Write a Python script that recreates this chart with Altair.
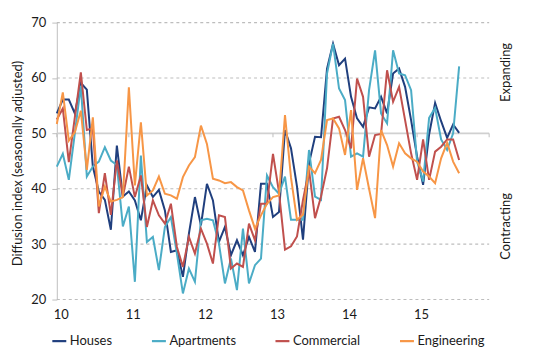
import altair as alt
import pandas as pd

# ---- data (months since Jan 2010, diffusion index values) ----
series_names = ["Houses", "Apartments", "Commercial", "Engineering"]
series_colors = ["#203F7E", "#4BACC6", "#C0504D", "#F79646"]

houses = [53.6, 56.1, 56.1, 53.6, 59.1, 57.9, 44.0, 39.5, 38.0, 32.6,
          47.8, 38.6, 39.5, 37.9, 34.3, 40.6, 38.5, 39.8, 36.1, 28.6,
          28.9, 24.1, 31.9, 38.5, 33.4, 40.9, 37.9, 30.4, 33.1, 28.0,
          30.7, 28.0, 31.3, 28.6, 40.9, 40.9, 34.9, 35.8, 50.6, 47.3,
          40.4, 30.8, 44.6, 49.4, 49.3, 61.7, 66.2, 62.3, 63.5, 56.6,
          52.7, 51.2, 54.7, 54.5, 56.6, 53.6, 60.8, 61.7, 58.4, 52.4,
          45.8, 40.7, 49.8, 55.5, 52.2, 49.2, 51.6, 50.1]
apartments = [44.0, 46.3, 41.6, 50.0, 58.6, 42.2, 44.0, 44.9, 47.5, 45.1,
              44.3, 33.2, 36.8, 23.2, 46.0, 30.4, 31.3, 25.3, 33.1, 34.9,
              28.3, 21.1, 25.6, 23.2, 34.3, 34.6, 34.3, 30.1, 22.9, 27.4,
              21.7, 32.8, 22.9, 26.2, 27.4, 42.4, 40.3, 39.1, 42.2, 34.4,
              34.4, 34.4, 47.0, 38.6, 38.0, 60.8, 66.2, 58.1, 56.0, 45.8,
              46.4, 45.8, 57.8, 65.0, 53.6, 51.8, 65.0, 60.8, 60.5, 57.8,
              44.9, 41.3, 52.8, 54.6, 48.9, 47.0, 50.0, 62.1]
commercial = [52.5, 54.5, 44.8, 52.9, 61.0, 50.6, 50.9, 35.6, 42.8, 35.3,
              45.1, 38.6, 44.0, 38.5, 42.4, 33.1, 37.9, 35.2, 33.7, 37.3,
              29.5, 25.9, 31.3, 28.3, 32.8, 30.1, 26.5, 35.2, 34.9, 25.6,
              26.5, 25.9, 33.7, 30.7, 37.3, 37.3, 46.3, 39.4, 29.0, 29.6,
              31.4, 38.0, 43.4, 34.7, 38.6, 43.7, 52.7, 53.0, 50.6, 47.3,
              59.9, 56.6, 45.8, 49.7, 49.9, 61.4, 55.7, 58.4, 52.4, 46.4,
              41.6, 48.9, 41.6, 46.7, 47.6, 48.9, 48.9, 45.2]
engineering = [51.7, 57.4, 48.7, 50.2, 54.1, 43.4, 52.9, 36.8, 40.4, 37.7,
               38.0, 38.5, 58.3, 40.6, 52.0, 38.8, 39.7, 42.2, 39.1, 38.8,
               38.2, 42.1, 44.2, 45.7, 51.4, 48.1, 41.8, 41.5, 41.0, 41.2,
               40.3, 39.7, 36.1, 32.8, 35.2, 37.3, 38.5, 38.8, 53.3, 42.0,
               34.4, 35.3, 44.0, 42.8, 45.2, 52.4, 52.7, 50.9, 46.1, 54.2,
               39.8, 45.5, 40.0, 34.7, 50.6, 47.9, 44.0, 48.2, 46.4, 45.5,
               44.9, 43.1, 42.2, 41.0, 45.5, 48.3, 44.9, 42.8]

year_labels = [10, 11, 12, 13, 14, 15]
year_ticks = [10, 11, 12, 13, 14, 15, 16]
dotted_levels = [20, 30, 40, 60, 70]
y_ticks = [20, 30, 40, 50, 60, 70]
side_labels = ["Expanding", "Contracting"]
side_label_levels = [61.0, 33.2]

# ---- tables built from the arrays ----
rows = []
for name, vals in zip(series_names, [houses, apartments, commercial, engineering]):
    for m, v in enumerate(vals):
        rows.append({"t": 10 + m / 12, "value": v, "series": name})
lines_df = pd.DataFrame(rows)

grid_rows = []
for lvl in dotted_levels:
    grid_rows.append({"value": lvl, "t": year_ticks[0], "t2": year_ticks[-1]})
grid_df = pd.DataFrame(grid_rows)
zero_df = pd.DataFrame({"value": [50], "t": [year_ticks[0]], "t2": [year_ticks[-1]]})
tick_df = pd.DataFrame({"t": year_ticks, "value": [50] * len(year_ticks),
                        "value2": [49.3] * len(year_ticks)})
side_df = pd.DataFrame({"label": side_labels, "value": side_label_levels})

FONT = "Lato"
TXT = "#1a1a1a"

x_scale = alt.Scale(domain=[10, 16], nice=False, zero=False)
y_scale = alt.Scale(domain=[20, 70], nice=False, zero=False)

x_axis = alt.Axis(values=year_labels, format="d", title=None, domain=False, ticks=False,
                  grid=False, labelFontSize=13, labelColor=TXT, labelFont=FONT,
                  labelPadding=9, labelOffset=4, labelAlign="center")
y_axis = alt.Axis(values=y_ticks, title="Diffusion index (seasonally adjusted)",
                  grid=False, domain=True, domainColor="#BFBFBF", domainWidth=1,
                  ticks=True, tickSize=5, tickColor="#BFBFBF", labelFontSize=13,
                  labelColor=TXT, labelFont=FONT, labelPadding=6,
                  titleFontSize=13, titleFont=FONT, titleColor=TXT,
                  titleFontWeight="normal", titleX=-39, titleY=141,
                  titleAlign="center", titleBaseline="middle")

X = alt.X("t:Q", scale=x_scale, axis=x_axis)
Y = alt.Y("value:Q", scale=y_scale, axis=y_axis)

grid = alt.Chart(grid_df).mark_rule(color="#BDBDBD", strokeDash=[3, 3], strokeWidth=1.1).encode(
    x=X, x2=alt.X2("t2:Q"), y=Y)
zero = alt.Chart(zero_df).mark_rule(color="#D0D0D0", strokeWidth=2).encode(
    x=X, x2=alt.X2("t2:Q"), y=Y)
ticks = alt.Chart(tick_df).mark_rule(color="#BFBFBF", strokeWidth=1).encode(
    x=X, y=Y, y2=alt.Y2("value2:Q"))

lines = alt.Chart(lines_df).mark_line(strokeWidth=2, interpolate="linear").encode(
    x=X, y=Y,
    color=alt.Color("series:N",
                    scale=alt.Scale(domain=series_names, range=series_colors),
                    sort=series_names,
                    legend=alt.Legend(title=None, orient="none", legendX=-6, legendY=311,
                                      direction="horizontal", symbolType="stroke",
                                      symbolSize=196, symbolStrokeWidth=2.2,
                                      labelFontSize=13, labelFont=FONT, labelColor=TXT,
                                      columnPadding=35, labelOffset=2, padding=0)),
    order=alt.Order("t:Q"),
)

side = alt.Chart(side_df).mark_text(angle=270, fontSize=13, font=FONT, color=TXT,
                                    align="center", baseline="middle").encode(
    x=alt.value(451), y=Y, text="label:N")

chart = alt.layer(grid, zero, ticks, lines, side).properties(
    width=434, height=278,
    autosize=alt.AutoSizeParams(type="none"),
    padding={"left": 49, "top": 14, "right": 40, "bottom": 50},
).configure(font=FONT).configure_view(stroke=None)

chart.save("out.html", embed_options={"renderer": "svg", "actions": False})
